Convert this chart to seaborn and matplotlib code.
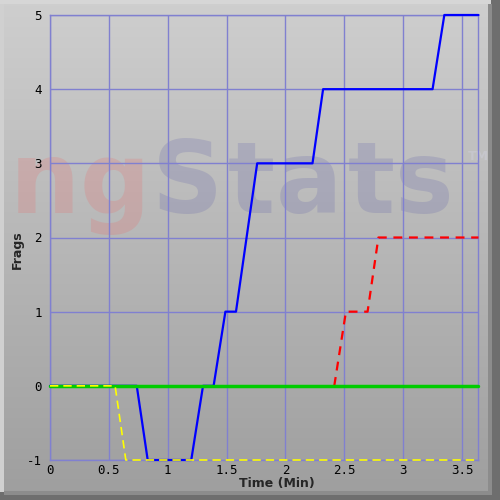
import numpy as np
import pandas as pd
import matplotlib
matplotlib.use("Agg")
import matplotlib.pyplot as plt
import seaborn as sns
from matplotlib.patches import Rectangle

# Frag timelines (time in minutes, frags)
blue_t = [0.0, 0.737, 0.83, 1.20, 1.30, 1.39, 1.49, 1.58, 1.76, 2.23, 2.32, 3.25, 3.35, 3.64]
blue_f = [0, 0, -1, -1, 0, 0, 1, 1, 3, 3, 4, 4, 5, 5]
red_t = [2.415, 2.514, 2.698, 2.79, 3.64]
red_f = [0, 1, 1, 2, 2]
green_t = [0.0, 3.64]
green_f = [0, 0]
yellow_t = [0.0, 0.553, 0.644, 3.64]
yellow_f = [0, 0, -1, -1]

x_ticks = [0, 0.5, 1, 1.5, 2, 2.5, 3, 3.5]
x_labels = ["0", "0.5", "1", "1.5", "2", "2.5", "3", "3.5"]
y_ticks = [-1, 0, 1, 2, 3, 4, 5]

sns.set_style("white")
plt.rcParams['font.family'] = ['DejaVu Sans']

fig = plt.figure(figsize=(5, 5), dpi=100)

# background gradient and bevel frame
bg = fig.add_axes([0, 0, 1, 1], zorder=0)
grad = np.linspace(0.81, 0.62, 256).reshape(-1, 1)
bg.imshow(np.dstack([grad, grad, grad]), aspect="auto", extent=[0, 500, 0, 500], origin="upper")
bg.set_xlim(0, 500)
bg.set_ylim(0, 500)
bg.axis("off")
bg.add_patch(Rectangle((0, 0), 4, 500, color="#d0d0d0", lw=0))
bg.add_patch(Rectangle((0, 496), 500, 4, color="#d6d6d6", lw=0))
bg.add_patch(Rectangle((491, 0), 9, 500, color="#6e6e6e", lw=0))
bg.add_patch(Rectangle((0, 0), 500, 8, color="#6e6e6e", lw=0))
bg.add_patch(Rectangle((488, 5), 4, 491, color="#8c8c8c", lw=0))
bg.add_patch(Rectangle((4, 5), 488, 4, color="#8c8c8c", lw=0))

# watermark
wm_kw = dict(fontsize=71, fontweight="bold", alpha=0.2, va="baseline", ha="left")
bg.text(10, 287, "n", color="#f06060", **wm_kw)
bg.text(80, 287, "g", color="#f06060", **wm_kw)
for ch, xl in zip("Stats", [152, 228, 276, 348, 395]):
    bg.text(xl, 287, ch, color="#5858a8", **wm_kw)
bg.text(478, 343, "TM", fontsize=9, fontweight="bold", color="#c8c8d0", alpha=0.8,
        va="center", ha="center")

ax = fig.add_axes([50 / 500, 40 / 500, 428 / 500, 445 / 500], zorder=1)
ax.set_facecolor("none")

grid_c = "#8080d0"
sns.lineplot(x=blue_t, y=blue_f, ax=ax, color="#0000ff", lw=1.6, sort=False, zorder=3)
sns.lineplot(x=red_t, y=red_f, ax=ax, color="#ff0000", lw=1.6, sort=False, zorder=3)
ax.lines[-1].set_linestyle((0, (4, 3)))
sns.lineplot(x=green_t, y=green_f, ax=ax, color="#00cc00", lw=2.5, sort=False, zorder=4)
sns.lineplot(x=yellow_t, y=yellow_f, ax=ax, color="#ffff00", lw=1.2, sort=False, zorder=5)
ax.lines[-1].set_linestyle((0, (5, 3)))
for ln in ax.lines:
    ln.set_clip_on(False)

ax.set_xlim(0, 3.636)
ax.set_ylim(-1, 5)
ax.set_xticks(x_ticks)
ax.set_xticklabels(x_labels, family="DejaVu Sans Mono", fontsize=9)
ax.set_yticks(y_ticks)
ax.set_yticklabels([str(v) for v in y_ticks], family="DejaVu Sans Mono", fontsize=9)
ax.tick_params(axis="x", length=0, pad=3, colors="black")
ax.tick_params(axis="y", length=0, pad=6, colors="black")
ax.grid(True, color=grid_c, lw=1)
for s in ax.spines.values():
    s.set_color(grid_c)
    s.set_linewidth(1)
    s.set_visible(True)

ax.set_xlabel("")
ax.set_ylabel("")
fig.text(277 / 500, 16 / 500, "Time (Min)", fontsize=9, fontweight="bold", ha="center", va="center")
fig.text(17 / 500, 250 / 500, "Frags", fontsize=9, fontweight="bold", ha="center", va="center",
         rotation=90)

fig.savefig("out.png", dpi=100)
